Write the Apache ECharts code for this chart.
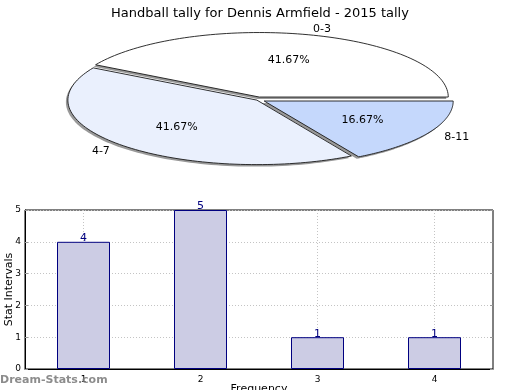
<!DOCTYPE html>
<html>
<head>
<meta charset="utf-8">
<script src="https://cdn.jsdelivr.net/npm/echarts@6/dist/echarts.min.js"></script>
<style>
html,body{margin:0;padding:0;background:#fff;}
#chart{width:520px;height:390px;}
</style>
</head>
<body>
<div id="chart"></div>
<script>
// ---- data ----
const titleText = 'Handball tally for Dennis Armfield - 2015 tally';
const pieLabels = ['0-3', '4-7', '8-11'];
const pieValues = [5, 5, 2];
const barCategories = ['1', '2', '3', '4'];
const barValues = [4, 5, 1, 1];
const yTicks = [0, 1, 2, 3, 4, 5];

// ---- styles (not data) ----
const pieColors = ['#ffffff', '#eaf0fd', '#c5d8fc'];
const pieExplode = [1, 3, 6];
const FONT = 'DejaVu Sans';

const total = pieValues.reduce((a, b) => a + b, 0);
const starts = [];
let acc = 0;
pieValues.forEach(v => { starts.push(acc); acc += v; });

function slicePoints(ox, oy, rx, ry, a0, a1) {
  const pts = [[ox, oy]];
  const n = 90;
  for (let k = 0; k <= n; k++) {
    const a = a0 + (a1 - a0) * k / n;
    pts.push([ox + rx * Math.cos(a), oy - ry * Math.sin(a)]);
  }
  return pts;
}

function renderSlice(params, api) {
  const i = params.dataIndex;
  const cx = 259, cy = 98, rx = 189, ry = 64.5;
  const a0 = starts[i] / total * Math.PI * 2;
  const a1 = (starts[i] + pieValues[i]) / total * Math.PI * 2;
  const mid = (a0 + a1) / 2;
  const ox = cx + pieExplode[i] * Math.cos(mid);
  const oy = cy - pieExplode[i] * Math.sin(mid);
  const pct = (pieValues[i] / total * 100).toFixed(2) + '%';
  const lx = ox + rx * 0.6 * Math.cos(mid);
  const ly = oy - ry * 0.6 * Math.sin(mid);
  const tx = ox + rx * 1.1 * Math.cos(mid);
  const ty = oy - ry * 1.1 * Math.sin(mid);
  return {
    type: 'group',
    children: [
      {
        type: 'polygon', z2: 0,
        shape: { points: slicePoints(ox - 2, oy + 2, rx, ry, a0, a1) },
        style: { fill: '#999999', stroke: null }
      },
      {
        type: 'polygon', z2: 5,
        shape: { points: slicePoints(ox, oy, rx, ry, a0, a1) },
        style: { fill: pieColors[i], stroke: '#1a1a1a', lineWidth: 0.9 }
      },
      {
        type: 'text', z2: 10,
        style: { text: pct, x: lx, y: ly, align: 'center', verticalAlign: 'middle',
                 fill: '#000', font: '11px "' + FONT + '"' }
      },
      {
        type: 'text', z2: 10,
        style: { text: pieLabels[i], x: tx, y: ty + 1,
                 align: Math.cos(mid) >= 0 ? 'left' : 'right', verticalAlign: 'middle',
                 fill: '#000', font: '11px "' + FONT + '"' }
      }
    ]
  };
}

const chart = echarts.init(document.getElementById('chart'), null, { renderer: 'canvas' });
chart.setOption({
  animation: false,
  backgroundColor: '#fff',
  textStyle: { fontFamily: FONT },
  title: {
    text: titleText, left: 'center', top: 2,
    textStyle: { fontFamily: FONT, fontSize: 13, fontWeight: 'normal', color: '#000' }
  },
  graphic: [{
    type: 'text', left: 0, top: 375, z: 100,
    style: { text: 'Dream-Stats.com', fill: 'rgba(120,120,120,0.85)',
             font: 'bold 11px "' + FONT + '"' }
  }],
  grid: {
    left: 25, right: 27, top: 210, bottom: 21,
    containLabel: false, outerBoundsMode: 'none',
    show: true, borderColor: '#000', borderWidth: 1, backgroundColor: 'transparent'
  },
  xAxis: [{
    type: 'category', data: barCategories, gridIndex: 0,
    name: 'Frequency', nameLocation: 'middle', nameGap: 15, nameMoveOverlap: false,
    nameTextStyle: { fontFamily: FONT, fontSize: 11, color: '#000' },
    axisLine: { show: true, lineStyle: { color: '#000' } },
    axisTick: { show: true, inside: true, alignWithLabel: true, length: 3, lineStyle: { color: '#999' } },
    axisLabel: { fontFamily: FONT, fontSize: 9, color: '#000', margin: 6 },
    splitLine: { show: true, alignWithLabel: true, lineStyle: { color: '#c4c4c4', type: [1, 2], width: 1 } }
  }],
  yAxis: [{
    type: 'value', min: yTicks[0], max: yTicks[yTicks.length - 1], interval: 1,
    name: 'Stat Intervals', nameLocation: 'middle', nameGap: 10, nameRotate: 90, nameMoveOverlap: false,
    nameTextStyle: { fontFamily: FONT, fontSize: 11, color: '#000' },
    axisLine: { show: true, lineStyle: { color: '#000' } },
    axisTick: { show: true, inside: true, length: 3, lineStyle: { color: '#999' } },
    axisLabel: { fontFamily: FONT, fontSize: 9, color: '#000', margin: 4 },
    splitLine: { show: true, lineStyle: { color: '#c4c4c4', type: [1, 2], width: 1 } }
  }, {
    type: 'value', min: yTicks[0], max: yTicks[yTicks.length - 1], interval: 1, position: 'right',
    axisLine: { show: false },
    axisTick: { show: true, inside: true, length: 3, lineStyle: { color: '#999' } },
    axisLabel: { show: false },
    splitLine: { show: false }
  }],
  series: [
    {
      type: 'custom', coordinateSystem: 'none', renderItem: renderSlice,
      data: pieValues.map((v, i) => ({ name: pieLabels[i], value: v })),
      silent: true
    },
    {
      type: 'bar', data: barValues, barWidth: 53,
      itemStyle: { color: '#ccccE4', borderColor: '#000080', borderWidth: 1 },
      label: { show: true, position: 'top', distance: -2, color: '#000080',
               fontFamily: FONT, fontSize: 11 }
    }
  ]
});
</script>
</body>
</html>
